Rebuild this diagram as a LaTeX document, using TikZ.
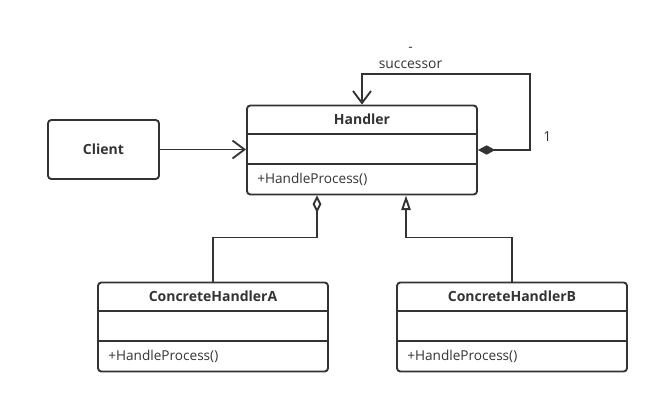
\documentclass[tikz,border=0pt]{standalone}
\usepackage{fontspec}
\setmainfont{Open Sans}
\usetikzlibrary{arrows.meta,calc}
\definecolor{umlgray}{RGB}{51,51,51}
\tikzset{
  umlline/.style={draw=umlgray, line width=1.4pt},
  classbox/.style={umlline, rectangle, rounded corners=2.5pt, inner sep=0pt,
    minimum width=172.5pt, minimum height=66.75pt},
  classname/.style={font=\bfseries\fontsize{10.5}{12}\selectfont, text=umlgray, inner sep=0pt},
  classop/.style={font=\fontsize{10.2}{12}\selectfont, text=umlgray, anchor=west, inner sep=0pt},
  umllabel/.style={font=\fontsize{10.4}{12.75}\selectfont, text=umlgray, inner sep=0pt, align=center},
  openbarb/.style={-{Straight Barb[length=9pt,width=13.5pt,line width=1.4pt]}},
}
% one class: name, centre, title
\newcommand{\umlclass}[3]{%
  \node[classbox] (#1) at (#2) {};
  \draw[umlline] ($(#1.north west)+(0,29.5)$) -- ($(#1.north east)+(0,29.5)$);
  \draw[umlline] ($(#1.north west)+(0,59.5)$) -- ($(#1.north east)+(0,59.5)$);
  \node[classname] (#1-title) at ($(#1.north)+(0,15)$) {#3};
  \node[classop] (#1-op) at ($(#1.north west)+(11,75)$) {+HandleProcess()};
}
\begin{document}
\begin{tikzpicture}[x=0.75pt,y=-0.75pt]
   \useasboundingbox (0,0) rectangle (658,403);
   %clases
   \node[classbox, minimum width=83.25pt, minimum height=44.25pt] (client) at (103.5,149.5) {};
   \node[classname] (client-title) at (client.center) {Client};
   \umlclass{handler}{362,150}{Handler}
   \umlclass{cha}{213,327}{ConcreteHandlerA}
   \umlclass{chb}{512,327}{ConcreteHandlerB}
   %asociaciones
   \draw[umlline, openbarb] (client.east) -- (client.east -| handler.west);
   \coordinate (loop) at ($(handler.north east)+(52,-30.5)$);
   \draw[umlline, {Diamond[length=13pt,width=7pt]}-{Straight Barb[length=9pt,width=13.5pt,line width=1.4pt]}]
      (handler.east) -| (loop) -| (handler.north);
   \node[umllabel] (succ) at ($(handler.north)+(48.5,-47)$) {-\\successor};
   \node[umllabel] (mult) at ($(handler.east)+(69.5,-13)$) {1};
   %agregacion y herencia
   \coordinate (aggr) at ($(handler.south)+(-45,0)$);
   \coordinate (gen) at ($(handler.south)+(44,0)$);
   \draw[umlline, {Diamond[open,fill=white,length=13pt,width=6.5pt]}-]
      (aggr) |- ($(cha.north)+(0,-44)$) -- (cha.north);
   \draw[umlline, {Triangle[open,fill=white,length=11pt,width=7pt]}-]
      (gen) |- ($(chb.north)+(0,-44)$) -- (chb.north);
\end{tikzpicture}
\end{document}
